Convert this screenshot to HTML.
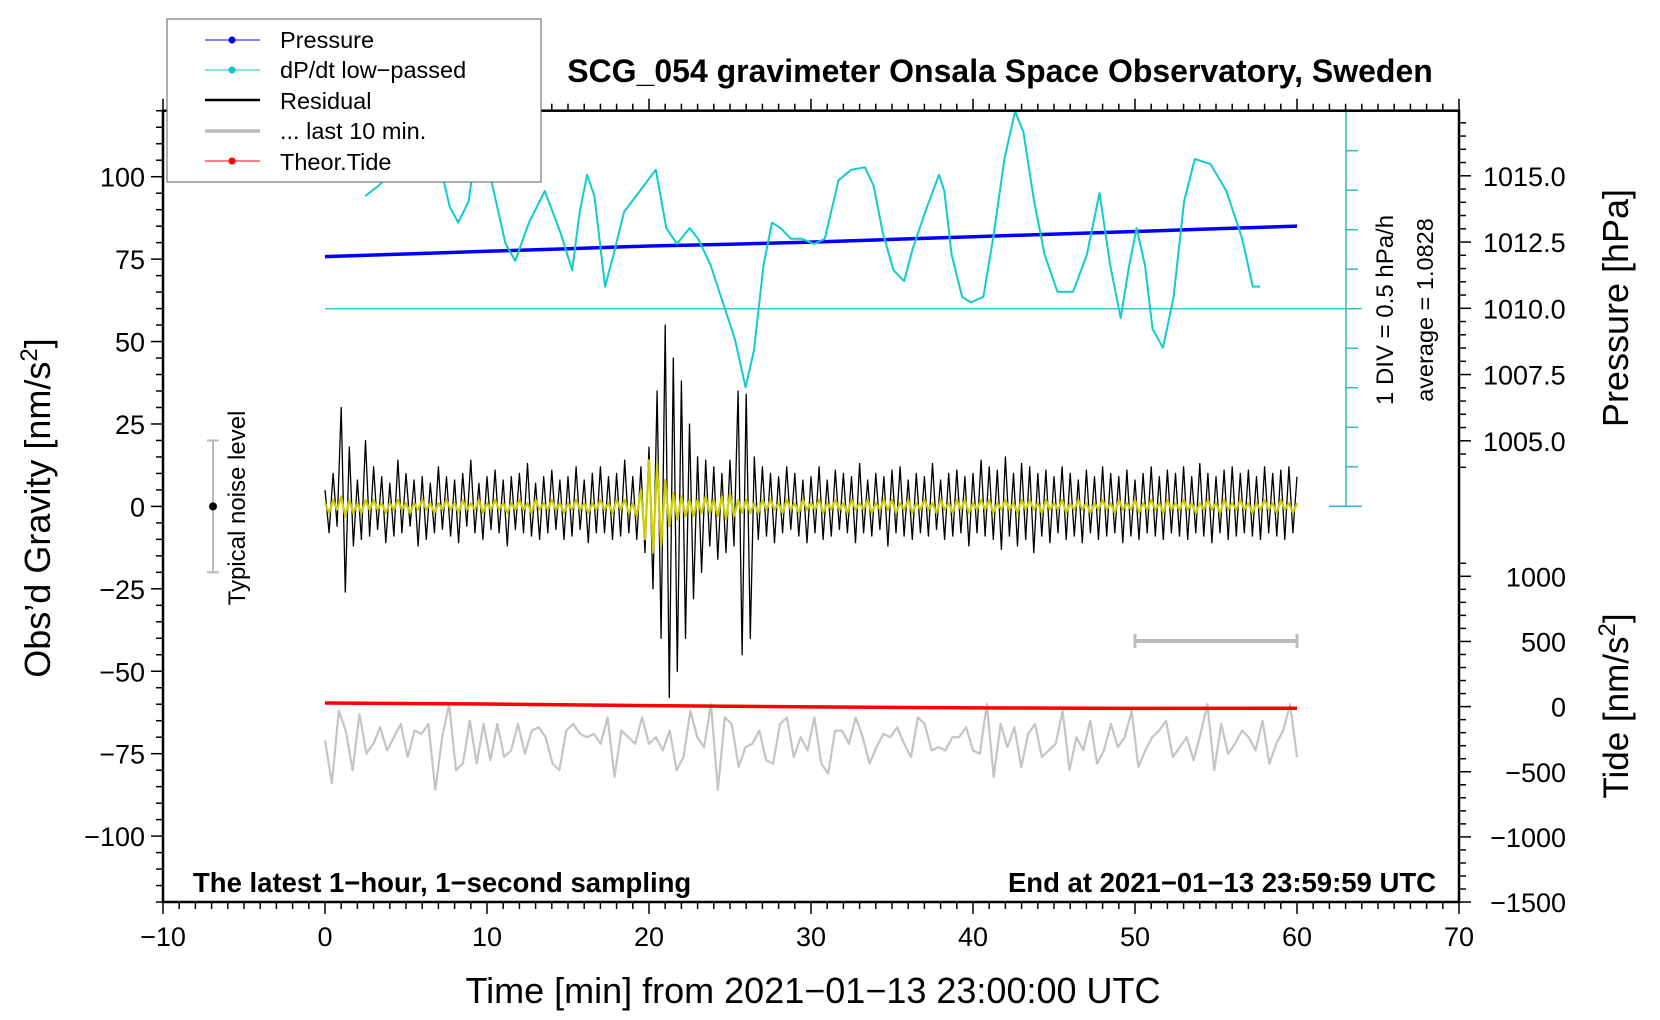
<!DOCTYPE html>
<html><head><meta charset="utf-8"><style>
body{margin:0;background:#fff}
svg{display:block;font-family:"Liberation Sans",sans-serif}
</style></head><body>
<svg id="chart" width="1660" height="1020" viewBox="0 0 1660 1020">
<g id="marks"></g>
<g id="axes"></g>
<text x="1000" y="82" font-size="32" font-weight="bold" text-anchor="middle">SCG_054 gravimeter Onsala Space Observatory, Sweden</text>
<text x="193" y="892" font-size="27.5" font-weight="bold">The latest 1−hour, 1−second sampling</text>
<text x="1436" y="892" font-size="27.5" font-weight="bold" text-anchor="end">End at 2021−01−13 23:59:59 UTC</text>
<text x="813" y="1003" font-size="36" text-anchor="middle">Time [min] from 2021−01−13 23:00:00 UTC</text>
<text transform="translate(50,508) rotate(-90)" font-size="36" text-anchor="middle">Obs’d Gravity [nm/s<tspan font-size="24" dy="-13">2</tspan><tspan dy="13">]</tspan></text>
<text transform="translate(1628,308) rotate(-90)" font-size="36" text-anchor="middle">Pressure [hPa]</text>
<text transform="translate(1628,706) rotate(-90)" font-size="35" text-anchor="middle">Tide [nm/s<tspan font-size="24" dy="-13">2</tspan><tspan dy="13">]</tspan></text>
<text transform="translate(1393,310) rotate(-90)" font-size="24" text-anchor="middle">1 DIV = 0.5 hPa/h</text>
<text transform="translate(1433,310) rotate(-90)" font-size="23.5" text-anchor="middle">average = 1.0828</text>
<text transform="translate(245,508) rotate(-90)" font-size="24" text-anchor="middle">Typical noise level</text>
<g>
<rect x="167" y="19" width="374" height="163" fill="#fff" stroke="#777" stroke-width="1.2"/>
<g><line x1="205" y1="40" x2="260" y2="40" stroke="#00f"/><circle cx="232" cy="40" r="3.5" fill="#00f"/><text x="280" y="48" font-size="23.5">Pressure</text></g>
<g><line x1="205" y1="70" x2="260" y2="70" stroke="#0cc"/><circle cx="232" cy="70" r="3.5" fill="#0cc"/><text x="280" y="78" font-size="23.5">dP/dt low−passed</text></g>
<g><line x1="205" y1="100" x2="260" y2="100" stroke="#000" stroke-width="2.5"/><text x="280" y="109" font-size="23.5">Residual</text></g>
<g><line x1="205" y1="131" x2="260" y2="131" stroke="#bbb" stroke-width="3.5"/><text x="280" y="139" font-size="23.5">... last 10 min.</text></g>
<g><line x1="205" y1="161" x2="260" y2="161" stroke="#f00"/><circle cx="232" cy="161" r="3.5" fill="#f00"/><text x="280" y="170" font-size="23.5">Theor.Tide</text></g>
</g>
</svg>
<script>
// ---- data ----
const dpdtMin=[2.48,3.33,4.24,6.07,7.24,7.70,8.22,8.87,9.13,10.11,10.63,11.15,11.74,12.59,13.57,14.55,15.26,15.72,16.18,16.63,17.29,17.81,18.46,19.44,20.42,21.07,21.72,22.51,23.03,23.81,24.66,25.31,25.96,26.48,27.07,27.59,28.11,28.77,29.42,30.20,30.85,31.70,32.49,33.33,33.86,34.44,35.10,35.75,36.27,37.05,37.90,38.23,38.68,39.33,39.86,40.64,41.29,41.94,42.60,43.12,43.77,44.42,45.21,46.18,47.03,47.81,48.47,49.12,49.64,50.10,50.62,51.08,51.73,52.38,53.03,53.69,54.66,55.64,56.62,57.27,57.73];
const dpdtDiv=[2.85,3.12,3.52,3.79,3.39,2.58,2.18,2.72,3.52,3.52,2.58,1.64,1.21,2.18,2.98,1.91,0.97,2.45,3.39,2.85,0.56,1.37,2.45,2.98,3.52,2.04,1.64,2.04,1.77,1.10,0.03,-0.78,-1.99,-1.05,1.10,2.18,2.04,1.77,1.77,1.64,1.77,3.25,3.52,3.58,3.12,1.91,0.97,0.70,1.51,2.45,3.39,2.98,1.37,0.30,0.16,0.30,1.91,3.79,5.00,4.46,2.72,1.37,0.43,0.43,1.37,2.93,1.10,-0.24,1.10,2.04,1.10,-0.51,-0.99,0.30,2.72,3.79,3.66,2.98,1.77,0.56,0.56];
const pressMin=[0,5,10,15,20,25,30,35,40,45,50,55,60];
const pressHpa=[1011.95,1012.05,1012.15,1012.25,1012.35,1012.42,1012.5,1012.6,1012.7,1012.8,1012.9,1013.0,1013.1];
const tideMin=[0,10,20,30,40,50,60];
const tideVal=[28,20,8,-2,-10,-14,-12];
// residual sampled every 0.25 min
const residual=[5,-8,10,-6,30,-26,18,-12,8,-10,20,-9,12,-7,9,-11,7,-9,14,-8,10,-6,8,-12,9,-10,7,-8,12,-7,9,-9,8,-11,10,-6,14,-8,7,-10,9,-7,11,-8,8,-12,9,-7,10,-8,13,-9,7,-10,9,-8,11,-7,8,-10,9,-9,12,-7,8,-11,10,-8,12,-8,9,-10,10,-9,14,-8,9,-10,12,-14,18,-25,35,-40,55,-58,45,-50,38,-40,25,-28,15,-20,14,-12,12,-16,10,-14,14,-12,35,-45,34,-40,15,-10,12,-9,10,-11,9,-8,12,-7,10,-9,8,-11,9,-8,12,-10,8,-9,11,-7,10,-8,9,-11,13,-8,8,-9,10,-7,9,-12,11,-8,12,-9,8,-10,10,-8,9,-9,13,-7,8,-10,10,-9,11,-8,9,-12,10,-8,14,-9,12,-10,11,-13,15,-9,10,-12,13,-10,12,-14,10,-9,11,-11,9,-8,12,-10,10,-9,8,-11,11,-8,9,-10,12,-9,10,-8,9,-11,11,-9,8,-10,10,-8,12,-9,9,-10,11,-8,10,-9,12,-10,9,-8,13,-9,10,-11,9,-8,11,-10,12,-9,10,-8,11,-9,9,-10,12,-8,10,-9,11,-10,12,-8,9,-7];
const filtered=[1,-2,2,-1,3,-3,2,-2,1,-2,2,-1,2,-1,1,-2,1,-1,2,-1,1,-2,1,-1,2,-1,1,-2,1,-1,2,-1,1,-2,2,-1,1,-1,2,-2,1,-1,2,-1,1,-2,1,-1,2,-1,1,-2,2,-1,1,-1,2,-1,1,-2,1,-1,2,-1,1,-2,1,-1,2,-1,1,-2,2,-1,2,-2,1,-3,5,-10,14,-14,13,-12,8,-6,4,-4,3,-3,2,-3,2,-2,3,-2,2,-3,3,-4,4,-3,2,-2,2,-2,1,-2,2,-1,2,-1,1,-2,2,-1,1,-2,2,-1,1,-1,2,-2,1,-1,2,-1,1,-2,2,-1,1,-1,2,-2,1,-1,2,-1,2,-2,1,-1,2,-2,1,-1,2,-1,1,-2,2,-1,1,-2,2,-1,2,-2,1,-1,2,-1,2,-2,1,-1,2,-1,1,-2,2,-1,2,-1,1,-2,2,-1,1,-1,2,-2,1,-1,2,-1,1,-2,1,-1,2,-1,1,-2,2,-1,1,-1,2,-2,1,-1,2,-1,1,-2,2,-1,1,-1,2,-1,1,-2,1,-1,2,-1,1,-2,2,-1,1,-1,2,-1,1,-2,1,-1,2,-1,1,-2,2,-1,1,-2,1,-1,2,-1];
const last10=[-71,-84,-62,-68,-80,-63,-75,-72,-67,-74,-70,-66,-76,-68,-69,-66,-86,-70,-60,-80,-78,-65,-78,-66,-77,-66,-76,-74,-66,-75,-68,-67,-70,-78,-80,-68,-66,-69,-70,-69,-72,-64,-82,-68,-70,-72,-64,-72,-70,-74,-68,-80,-76,-62,-70,-73,-60,-86,-64,-66,-79,-73,-72,-68,-77,-78,-66,-64,-76,-70,-74,-64,-78,-81,-68,-68,-72,-64,-70,-78,-73,-69,-70,-67,-72,-76,-64,-66,-74,-73,-74,-70,-70,-67,-74,-75,-60,-82,-66,-73,-67,-79,-69,-66,-76,-74,-72,-62,-80,-70,-74,-65,-78,-74,-66,-73,-70,-62,-79,-74,-70,-68,-65,-76,-73,-70,-77,-69,-60,-80,-66,-75,-72,-68,-70,-74,-65,-78,-72,-68,-60,-76];
const xTicks=[-10,0,10,20,30,40,50,60,70];
const gTicks=[100,75,50,25,0,-25,-50,-75,-100];
const pTicks=[1015.0,1012.5,1010.0,1007.5,1005.0];
const tTicks=[1000,500,0,-500,-1000,-1500];
const STEP=0.25;

// ---- axes functions ----
const X=m=>325+m*16.2;
const YG=g=>506.4-g*3.297;
const YP=p=>308.3-(p-1010)*26.5;
const YT=t=>706.6-t*0.1303;
const YD=v=>308.7-v*39.5;
const NS='http://www.w3.org/2000/svg';
const marks=document.getElementById('marks'), axes=document.getElementById('axes');
function mk(tag,attrs,parent){const e=document.createElementNS(NS,tag);for(const k in attrs)e.setAttribute(k,attrs[k]);parent.appendChild(e);return e;}
function poly(xs,ys,stroke,w,name){
  const p=mk('polyline',{points:xs.map((x,i)=>x.toFixed(1)+','+ys[i].toFixed(1)).join(' '),fill:'none',stroke:stroke,'stroke-width':w,'stroke-linejoin':'round'},marks);
  
  
  return p;
}
const bl=mk('line',{x1:X(0),x2:1362,y1:YD(0),y2:YD(0),stroke:'#3cc',"stroke-width":1.5},marks);


const da=mk('line',{x1:1346,x2:1346,y1:110.7,y2:YD(-5),stroke:'#3bb',"stroke-width":1.5},marks);


for(let v=-5;v<=5;v++){const big=(v===-5||v===5);const t=mk('line',{x1:big?1329:1346,x2:big?1362:1358,y1:YD(v),y2:YD(v),stroke:'#3bb',"stroke-width":1.5},marks);
 
 }
poly(last10.map((v,i)=>X(i*60/(last10.length-1))),last10.map(YG),'#c4c4c4',2.2,'last-10-min-line');
poly(tideMin.map(X),tideVal.map(YT),'#f00',3.5,'tide-line');
const res=residual.filter((v,i)=>i*STEP<=60);
poly(res.map((v,i)=>X(i*STEP)),res.map(YG),'#000',1.3,'residual-line');
const fil=filtered.filter((v,i)=>i*STEP<=60);
poly(fil.map((v,i)=>X(i*STEP)),fil.map(YG),'#cc0',2.2,'filtered-residual-line');
poly(pressMin.map(X),pressHpa.map(YP),'#00f',3.5,'pressure-line');
poly(dpdtMin.map(X),dpdtDiv.map(YD),'#1cc',2,'dpdt-line');
const nb=mk('g',{},marks);


mk('line',{x1:213,x2:213,y1:YG(20),y2:YG(-20),stroke:'#bbb','stroke-width':2},nb);
mk('line',{x1:207,x2:219,y1:YG(20),y2:YG(20),stroke:'#bbb','stroke-width':2},nb);
mk('line',{x1:207,x2:219,y1:YG(-20),y2:YG(-20),stroke:'#bbb','stroke-width':2},nb);
mk('circle',{cx:213,cy:YG(0),r:4,fill:'#000'},nb);
const sb=mk('g',{},marks);


mk('line',{x1:X(50),x2:X(60),y1:641,y2:641,stroke:'#bbb','stroke-width':4},sb);
mk('line',{x1:X(50),x2:X(50),y1:634,y2:648,stroke:'#bbb','stroke-width':3},sb);
mk('line',{x1:X(60),x2:X(60),y1:634,y2:648,stroke:'#bbb','stroke-width':3},sb);

const L=163,R=1459,T=110.7,B=902;
const fr=mk('rect',{x:L,y:T,width:R-L,height:B-T,fill:'none',stroke:'#000','stroke-width':2.5},axes);


function tk(x1,y1,x2,y2){mk('line',{x1,y1,x2,y2,stroke:'#000','stroke-width':1.5},axes);}
function lbl(x,y,s,anchor,name,size){const t=mk('text',{x,y,'font-size':size||27,'text-anchor':anchor},axes);t.textContent=s;
 
 }
for(let m=-10;m<=70;m++){const maj=m%10===0;tk(X(m),B,X(m),B+(maj?12:7));tk(X(m),T,X(m),T-(maj?12:7));}
xTicks.forEach(m=>lbl(X(m),B+44,String(m).replace('-','−'),'middle','x-tick-label'));
for(let g=-120;g<=120;g+=5){const maj=g%25===0;tk(L,YG(g),L-(maj?12:7),YG(g));}
gTicks.forEach(g=>lbl(L-18,YG(g)+10,String(g).replace('-','−'),'end','y-tick-label'));
for(let p=1004;p<=1017.5;p+=0.5){if(YP(p)<T||YP(p)>YT(1000)-20)continue;const maj=Math.abs(p*2%5)<1e-6;tk(R,YP(p),R+(maj?12:7),YP(p));}
pTicks.forEach(p=>lbl(R+24,YP(p)+10,p.toFixed(1),'start','pressure-tick-label'));
for(let t=-1500;t<=1100;t+=100){const maj=t%500===0;tk(R,YT(t),R+(maj?12:7),YT(t));}
tTicks.forEach(t=>lbl(R+107,YT(t)+10,String(t).replace('-','−'),'end','tide-tick-label'));
</script>
</body></html>
